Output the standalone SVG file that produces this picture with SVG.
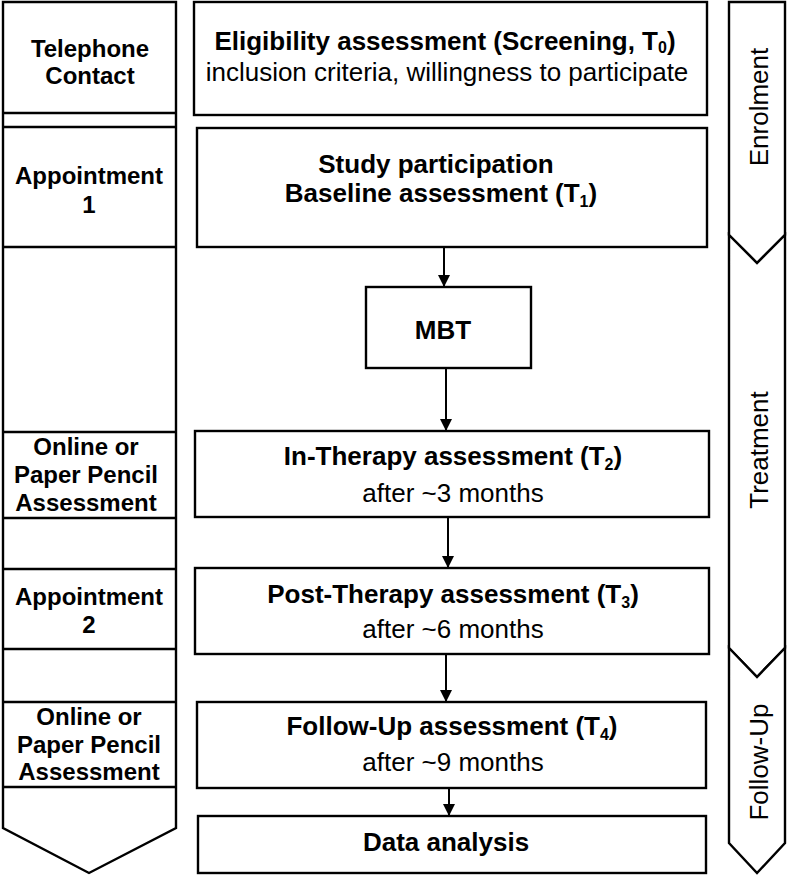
<svg xmlns="http://www.w3.org/2000/svg" width="787" height="875" viewBox="0 0 787 875">
<style>
.box{fill:#fff;stroke:#000;stroke-width:2.4}
.ln{fill:none;stroke:#000;stroke-width:2.4}
.t{font-family:"Liberation Sans",Arial,sans-serif;font-size:26px;text-anchor:middle;fill:#000}
.b{font-weight:bold}
.l{font-family:"Liberation Sans",Arial,sans-serif;font-size:24px;font-weight:bold;text-anchor:middle;fill:#000}
.s{font-size:16px}
.arr{fill:none;stroke:#000;stroke-width:2;marker-end:url(#ah)}
</style>
<defs>
<marker id="ah" markerUnits="userSpaceOnUse" markerWidth="14" markerHeight="14" refX="12" refY="6" orient="auto">
<path d="M0,0 L12,6 L0,12 Z" fill="#000"/>
</marker>
</defs>
<rect width="787" height="875" fill="#fff"/>

<g id="left-column">
<polygon class="box" points="3,2 176,2 176,828 89,873 3,828"/>
<line class="ln" x1="3" y1="113" x2="176" y2="113"/>
<line class="ln" x1="3" y1="127" x2="176" y2="127"/>
<line class="ln" x1="3" y1="247" x2="176" y2="247"/>
<line class="ln" x1="3" y1="432" x2="176" y2="432"/>
<line class="ln" x1="3" y1="518" x2="176" y2="518"/>
<line class="ln" x1="3" y1="569" x2="176" y2="569"/>
<line class="ln" x1="3" y1="649" x2="176" y2="649"/>
<line class="ln" x1="3" y1="702" x2="176" y2="702"/>
<line class="ln" x1="3" y1="787" x2="176" y2="787"/>
</g>
<g id="lbl-telephone"><text class="l" x="90" y="57">Telephone</text><text class="l" x="90" y="84">Contact</text></g>
<g id="lbl-appointment1"><text class="l" x="89" y="184">Appointment</text><text class="l" x="89" y="213">1</text></g>
<g id="lbl-online1"><text class="l" x="86" y="455">Online or</text><text class="l" x="86" y="483">Paper Pencil</text><text class="l" x="86" y="511">Assessment</text></g>
<g id="lbl-appointment2"><text class="l" x="89" y="605">Appointment</text><text class="l" x="89" y="633">2</text></g>
<g id="lbl-online2"><text class="l" x="89" y="725">Online or</text><text class="l" x="89" y="753">Paper Pencil</text><text class="l" x="89" y="780">Assessment</text></g>

<g id="phase-enrolment">
<polygon class="box" points="729,2 785,2 785,235 757,263 729,235"/>
<text class="t" transform="translate(768,107) rotate(-90)">Enrolment</text>
</g>
<g id="phase-treatment">
<polygon class="box" points="729,235 757,263 785,235 785,648 757,677 729,648"/>
<text class="t" transform="translate(768,450) rotate(-90)">Treatment</text>
</g>
<g id="phase-followup">
<polygon class="box" points="729,648 757,677 785,648 785,843 757,873 729,843"/>
<text class="t" transform="translate(768,762) rotate(-90)">Follow-Up</text>
</g>

<g id="connectors">
<line class="arr" x1="444" y1="247" x2="444" y2="287"/>
<line class="arr" x1="446" y1="368" x2="446" y2="431"/>
<line class="arr" x1="448" y1="514" x2="448" y2="568"/>
<line class="arr" x1="446" y1="650" x2="446" y2="702"/>
<line class="arr" x1="449" y1="788" x2="449" y2="816"/>
</g>

<g id="eligibility">
<rect class="box" x="194" y="2" width="513" height="113"/>
<text class="t b" x="445" y="50">Eligibility assessment (Screening, T<tspan class="s" dy="3">0</tspan><tspan dy="-3">)</tspan></text>
<text class="t" x="447" y="81">inclusion criteria, willingness to participate</text>
</g>
<g id="baseline">
<rect class="box" x="197" y="128" width="510" height="119"/>
<text class="t b" x="436" y="173">Study participation</text>
<text class="t b" x="441" y="202">Baseline assessment (T<tspan class="s" dy="5">1</tspan><tspan dy="-5">)</tspan></text>
</g>
<g id="mbt">
<rect class="box" x="366" y="287" width="165" height="81"/>
<text class="t b" x="443" y="339">MBT</text>
</g>
<g id="in-therapy">
<rect class="box" x="195" y="431" width="514" height="86"/>
<text class="t b" x="453" y="465">In-Therapy assessment (T<tspan class="s" dy="5">2</tspan><tspan dy="-5">)</tspan></text>
<text class="t" x="453" y="502">after ~3 months</text>
</g>
<g id="post-therapy">
<rect class="box" x="195" y="568" width="514" height="86"/>
<text class="t b" x="453" y="603">Post-Therapy assessment (T<tspan class="s" dy="5">3</tspan><tspan dy="-5">)</tspan></text>
<text class="t" x="453" y="638">after ~6 months</text>
</g>
<g id="follow-up">
<rect class="box" x="197" y="702" width="509" height="86"/>
<text class="t b" x="452" y="735">Follow-Up assessment (T<tspan class="s" dy="5">4</tspan><tspan dy="-5">)</tspan></text>
<text class="t" x="453" y="771">after ~9 months</text>
</g>
<g id="data-analysis">
<rect class="box" x="198" y="816" width="508" height="57"/>
<text class="t b" x="446" y="851">Data analysis</text>
</g>
</svg>
